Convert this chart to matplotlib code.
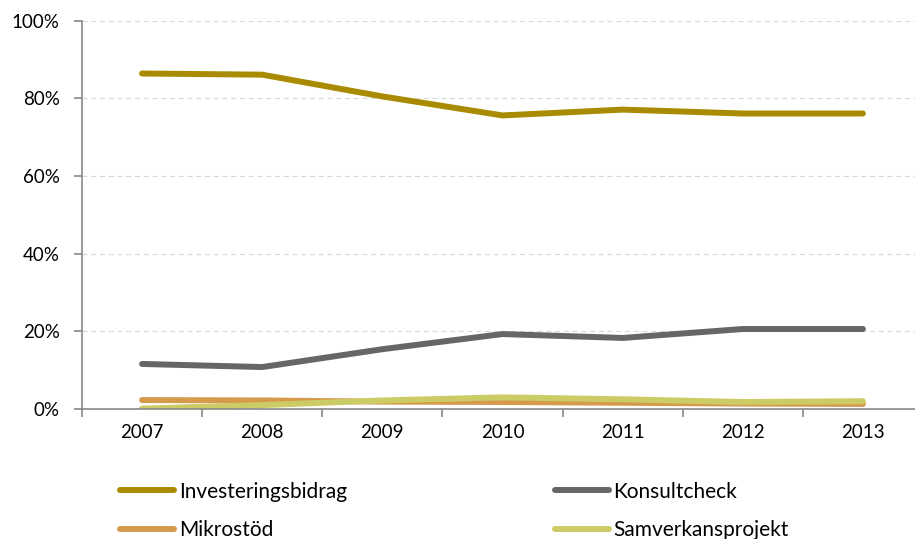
import matplotlib
matplotlib.use("Agg")
import matplotlib.pyplot as plt
import numpy as np

plt.rcParams['font.family'] = ['Lato', 'DejaVu Sans']

# data (share in %)
years = ['2007', '2008', '2009', '2010', '2011', '2012', '2013']
investeringsbidrag = [86.4, 86.1, 80.5, 75.6, 77.1, 76.1, 76.1]
konsultcheck = [11.6, 10.8, 15.4, 19.3, 18.3, 20.6, 20.6]
mikrostod = [2.3, 2.2, 1.9, 1.8, 1.6, 1.4, 1.3]
samverkansprojekt = [0.1, 1.0, 2.2, 3.0, 2.5, 1.8, 2.0]

series = [
    ('Investeringsbidrag', investeringsbidrag, '#A88B00'),
    ('Konsultcheck', konsultcheck, '#666666'),
    ('Mikrostöd', mikrostod, '#D59A4C'),
    ('Samverkansprojekt', samverkansprojekt, '#CCCC66'),
]

fig = plt.figure(figsize=(9.15, 5.39), dpi=100)
ax = fig.add_axes([0.0896, 0.2412, 0.9191, 0.7204])

x = np.arange(len(years))
lines = []
for name, vals, col in series:
    ln, = ax.plot(x, vals, color=col, linewidth=4.3, solid_capstyle='round',
                  solid_joinstyle='round', label=name)
    lines.append(ln)

ax.set_xlim(-0.5, len(years) - 0.5)
ax.set_ylim(0, 100)

# ticks between categories, labels at category centres
ax.set_xticks(np.arange(-0.5, len(years) + 0.5, 1.0))
ax.set_xticklabels([])
ax.set_xticks(x, minor=True)
ax.set_xticklabels(years, minor=True, fontsize=13.5)
ax.tick_params(axis='x', which='major', length=6, width=1.2, color='#888888', direction='out')
ax.tick_params(axis='x', which='minor', length=0, pad=11)

ax.set_yticks(np.arange(0, 101, 20))
ax.set_yticklabels([f"{v}%" for v in range(0, 101, 20)], fontsize=13.5)
ax.tick_params(axis='y', length=6, width=1.2, color='#888888', pad=10)

ax.grid(axis='y', linestyle=(0, (4, 3)), color='#D9D9D9', linewidth=0.9)
ax.set_axisbelow(True)

for side in ['top', 'right']:
    ax.spines[side].set_visible(False)
for side in ['left', 'bottom']:
    ax.spines[side].set_color('#888888')
    ax.spines[side].set_linewidth(1.2)

# legend filled row by row like the original (matplotlib fills by column)
order = [0, 2, 1, 3]
fig.legend([lines[i] for i in order], [series[i][0] for i in order],
           loc='upper left', bbox_to_anchor=(0.1315, 0.1064), ncol=2,
           frameon=False, fontsize=15, handlelength=2.6, handletextpad=0.2,
           columnspacing=10.0, labelspacing=0.9, borderaxespad=0, borderpad=0)

fig.savefig('out.png', dpi=100)
